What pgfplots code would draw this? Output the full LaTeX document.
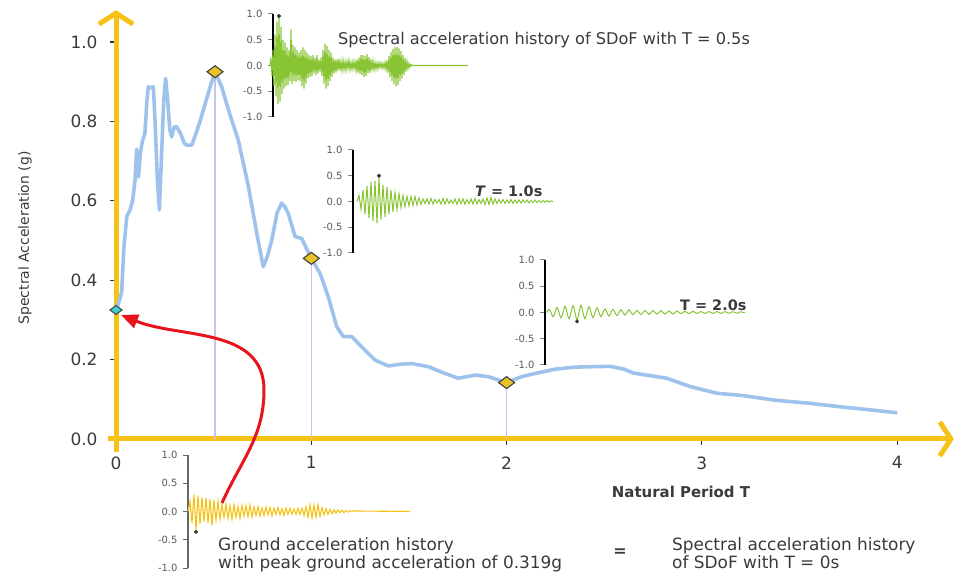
\documentclass[border=0pt]{standalone}
\usepackage{fontspec}
\setmainfont{DejaVu Sans}
\usepackage{pgfplots}
\pgfplotsset{compat=1.18}
\usetikzlibrary{arrows.meta}
\definecolor{gold}{RGB}{246,194,22}
\definecolor{skyb}{RGB}{157,195,236}
\definecolor{lav}{RGB}{196,196,236}
\definecolor{lime}{RGB}{136,196,52}
\definecolor{dgold}{RGB}{232,194,40}
\definecolor{cyanm}{RGB}{60,210,210}
\definecolor{redar}{RGB}{232,20,27}
\definecolor{txt}{RGB}{58,58,58}
\pgfplotsset{inset/.style={scale only axis, anchor=south west, axis x line=none, axis y line=left,
  ymin=-1, ymax=1, xmin=0, clip=false, y axis line style={-, line width=1.3bp},
  ytick={-1,-0.5,0,0.5,1}, yticklabels={-1.0,-0.5,0.0,0.5,1.0}, tick align=outside,
  major tick length=5bp, tick style={line width=1bp},
  yticklabel style={font=\fontsize{10}{10}\selectfont, text=black!65, xshift=-2bp}}}
\begin{document}
\begin{tikzpicture}
\path[use as bounding box] (0,0) rectangle (956bp,573bp);
\begin{axis}[at={(108.2bp,120.9bp)}, anchor=south west, scale only axis,
  width=845.6bp, height=441.9bp, xmin=-0.04, xmax=4.29, ymin=-0.033, ymax=1.08,
  axis lines=middle,
  axis line style={draw=gold, line width=5bp, -{Straight Barb[length=11bp,width=34bp]}},
  hide obscured x ticks=false, hide obscured y ticks=false,
  xtick={0,1,2,3,4}, xticklabels={0,1,2,3,4},
  ytick={0,0.2,0.4,0.6,0.8,1.0}, yticklabels={0.0,0.2,0.4,0.6,0.8,1.0},
  tick align=outside, major tick length=6bp, tick style={black!80, line width=1.2bp},
  ticklabel style={font=\fontsize{17}{17}\selectfont, text=txt},
  xticklabel style={yshift=-8bp}, yticklabel style={xshift=-9bp},
  clip=false]
\addplot[lav, line width=1.1bp] coordinates {(0.507,0) (0.507,0.925)};
\addplot[lav, line width=1.1bp] coordinates {(1,0) (1,0.455)};
\addplot[lav, line width=1.1bp] coordinates {(2,0) (2,0.142)};
\addplot[skyb, line width=3.6bp, line join=round] coordinates {
(0,0.325)(0.015,0.345)(0.029,0.37)(0.04,0.48)(0.055,0.56)(0.072,0.577)(0.085,0.6)(0.097,0.65)
(0.106,0.73)(0.115,0.66)(0.125,0.72)(0.135,0.75)(0.148,0.77)(0.158,0.85)(0.165,0.887)(0.175,0.885)
(0.191,0.887)(0.2,0.8)(0.212,0.65)(0.222,0.577)(0.232,0.7)(0.244,0.85)(0.254,0.908)(0.265,0.85)
(0.275,0.78)(0.285,0.761)(0.297,0.785)(0.31,0.787)(0.33,0.77)(0.35,0.745)(0.362,0.74)(0.388,0.74)
(0.41,0.77)(0.43,0.80)(0.46,0.85)(0.49,0.9)(0.507,0.925)(0.525,0.905)(0.541,0.887)(0.56,0.855)
(0.584,0.816)(0.626,0.753)(0.678,0.636)(0.72,0.52)(0.754,0.434)(0.775,0.46)(0.797,0.50)(0.825,0.57)
(0.848,0.594)(0.865,0.585)(0.882,0.568)(0.917,0.51)(0.951,0.505)(0.975,0.48)(1.0,0.455)
(1.045,0.417)(1.087,0.358)(1.13,0.283)(1.164,0.258)(1.207,0.258)(1.258,0.232)(1.326,0.199)
(1.394,0.184)(1.45,0.188)(1.514,0.19)(1.6,0.182)(1.685,0.165)(1.753,0.153)(1.838,0.161)
(1.906,0.157)(2.0,0.142)(2.077,0.157)(2.145,0.165)(2.25,0.176)(2.35,0.181)(2.43,0.182)
(2.53,0.183)(2.6,0.176)(2.65,0.166)(2.82,0.153)(2.94,0.132)(3.08,0.115)(3.2,0.11)(3.37,0.098)
(3.55,0.09)(3.71,0.081)(3.85,0.074)(4.0,0.066)};
\addplot[only marks, mark=diamond*, mark size=8bp, mark options={rotate=90, fill=dgold, draw=black!75, line width=1.1bp}]
  coordinates {(0.507,0.925) (1,0.455) (2,0.142)};
\addplot[only marks, mark=diamond*, mark size=6bp, mark options={rotate=90, fill=cyanm, draw=black!70, line width=1.1bp}]
  coordinates {(0,0.325)};
\end{axis}
% inset T = 0.5 s
\begin{axis}[inset, at={(273bp,456bp)}, width=200bp, height=103bp, xmax=200]
\addplot[lime, line width=1.1bp] coordinates {
(-3,0)(-2,0.15)(-1,-0.2)(0,0.3)(1,-0.4)(2,0.6)(3,-0.6)(4,0.85)(5,-0.75)(6,0.93)(7,-0.7)(8,0.75)(9,-0.55)
(10,0.5)(11,-0.45)(12,0.45)(13,-0.4)(14,0.35)(15,-0.38)(16,0.3)(17,-0.3)(18,0.7)(19,-0.35)(20,0.4)
(21,-0.3)(22,0.35)(23,-0.32)(24,0.3)(25,-0.28)(26,0.25)(27,-0.3)(28,0.3)(29,-0.4)(30,0.35)(31,-0.45)
(32,0.3)(33,-0.35)(34,0.25)(35,-0.25)(36,0.2)(37,-0.22)(38,0.18)(39,-0.2)(40,0.2)(41,-0.15)(42,0.15)
(43,-0.18)(44,0.2)(45,-0.15)(46,0.12)(47,-0.12)(48,0.15)(49,-0.2)(50,0.3)(51,-0.35)(52,0.42)(53,-0.45)
(54,0.38)(55,-0.4)(56,0.3)(57,-0.3)(58,0.25)(59,-0.22)(60,0.15)(61,-0.15)(62,0.12)(63,-0.14)(64,0.12)
(65,-0.1)(66,0.13)(67,-0.1)(68,0.08)(69,-0.1)(70,0.1)(71,-0.08)(72,0.07)(73,-0.09)(74,0.08)(75,-0.06)
(76,0.1)(77,-0.08)(78,0.06)(79,-0.07)(80,0.08)(81,-0.06)(82,0.07)(83,-0.1)(84,0.12)(85,-0.14)(86,0.15)
(87,-0.16)(88,0.2)(89,-0.18)(90,0.2)(91,-0.22)(92,0.18)(93,-0.2)(94,0.22)(95,-0.15)(96,0.16)(97,-0.14)
(98,0.12)(99,-0.1)(100,0.09)(101,-0.08)(102,0.06)(103,-0.07)(104,0.05)(105,-0.06)(106,0.05)(107,-0.04)
(108,0.05)(109,-0.05)(110,0.04)(111,-0.05)(112,0.06)(113,-0.08)(114,0.1)(115,-0.14)(116,0.18)(117,-0.22)
(118,0.26)(119,-0.3)(120,0.32)(121,-0.36)(122,0.35)(123,-0.4)(124,0.36)(125,-0.38)(126,0.33)(127,-0.3)
(128,0.28)(129,-0.25)(130,0.2)(131,-0.18)(132,0.14)(133,-0.12)(134,0.08)(135,-0.06)(136,0.04)(137,-0.03)
(138,0.02)(139,0)(195,0)};
\addplot[only marks, mark=*, mark size=1.8bp, black!80] coordinates {(6,0.96)};
\end{axis}
% inset T = 1.0 s
\begin{axis}[inset, at={(353bp,320bp)}, width=202bp, height=103bp, xmax=202]
\addplot[lime, line width=1bp] coordinates {
(4,0)(6,0.12)(8,-0.15)(10,0.22)(12,-0.25)(14,0.3)(16,-0.32)(18,0.38)(20,-0.38)(22,0.4)(24,-0.42)
(26,0.46)(28,-0.35)(30,0.32)(32,-0.3)(34,0.28)(36,-0.25)(38,0.22)(40,-0.2)(42,0.18)(44,-0.16)(46,0.15)
(48,-0.12)(50,0.12)(52,-0.1)(54,0.1)(56,-0.09)(58,0.1)(60,-0.08)(62,0.1)(64,-0.07)(66,0.07)(68,-0.06)
(70,0.05)(72,-0.04)(74,0.05)(76,-0.05)(78,0.06)(80,-0.05)(82,0.04)(84,-0.03)(86,0.04)(88,-0.05)(90,0.06)
(92,-0.05)(94,0.05)(96,-0.04)(98,0.03)(100,-0.04)(102,0.05)(104,-0.06)(106,0.05)(108,-0.04)(110,0.05)
(112,-0.05)(114,0.04)(116,-0.04)(118,0.05)(120,-0.05)(122,0.06)(124,-0.05)(126,0.04)(128,-0.04)(130,0.05)
(132,-0.06)(134,0.07)(136,-0.06)(138,0.08)(140,-0.05)(142,0.05)(144,-0.04)(146,0.04)(148,-0.03)(150,0.04)
(152,-0.04)(154,0.03)(156,-0.03)(158,0.04)(160,-0.04)(162,0.03)(164,-0.03)(166,0.03)(168,-0.03)(170,0.03)
(172,-0.02)(174,0.03)(176,-0.03)(178,0.02)(180,-0.02)(182,0.03)(184,-0.02)(186,0.02)(188,-0.02)(190,0.02)
(192,-0.02)(194,0.02)(196,-0.01)(198,0.01)(200,0)};
\addplot[only marks, mark=*, mark size=1.8bp, black!80] coordinates {(26,0.5)};
\end{axis}
% inset T = 2.0 s
\begin{axis}[inset, at={(545bp,208bp)}, width=200bp, height=105bp, xmax=200]
\addplot[lime, line width=1bp, smooth, tension=0.6] coordinates {
(2,0)(4,0.06)(6,0)(8,-0.08)(10,0)(12,0.1)(14,0)(16,-0.1)(18,0)(20,0.12)(22,0)(24,-0.12)(26,0)(28,0.13)
(30,0)(32,-0.14)(34,0)(36,0.14)(38,0)(40,-0.12)(42,0)(44,0.11)(46,0)(48,-0.1)(50,0)(52,0.09)(54,0)
(56,-0.08)(58,0)(60,0.07)(62,0)(64,-0.07)(66,0)(68,0.06)(70,0)(72,-0.06)(74,0)(76,0.05)(78,0)(80,-0.05)
(82,0)(84,0.05)(86,0)(88,-0.04)(90,0)(92,0.04)(94,0)(96,-0.04)(98,0)(100,0.04)(102,0)(104,-0.035)(106,0)
(108,0.035)(110,0)(112,-0.03)(114,0)(116,0.035)(118,0)(120,-0.03)(122,0)(124,0.03)(126,0)(128,-0.03)
(130,0)(132,0.03)(134,0)(136,-0.025)(138,0)(140,0.025)(142,0)(144,-0.025)(146,0)(148,0.025)(150,0)
(152,-0.02)(154,0)(156,0.02)(158,0)(160,-0.02)(162,0)(164,0.02)(166,0)(168,-0.02)(170,0)(172,0.02)
(174,0)(176,-0.02)(178,0)(180,0.02)(182,0)(184,-0.015)(186,0)(188,0.015)(190,0)(192,-0.015)(194,0)
(196,0.015)(198,0)(200,0)};
\addplot[only marks, mark=*, mark size=1.8bp, black!80] coordinates {(32,-0.17)};
\end{axis}
% inset ground motion
\begin{axis}[inset, at={(188bp,5bp)}, width=222bp, height=113bp, xmax=222,
  y axis line style={black!60}, tick style={black!60}]
\addplot[gold, line width=1.1bp] coordinates {
(0,0)(2,0.18)(4,-0.2)(6,0.3)(8,-0.32)(10,0.28)(12,-0.22)(14,0.25)(16,-0.18)(18,0.24)(20,-0.2)(22,0.22)
(24,-0.25)(26,0.2)(28,-0.15)(30,0.18)(32,-0.14)(34,0.12)(36,-0.1)(38,0.13)(40,-0.12)(42,0.1)(44,-0.14)
(46,0.12)(48,-0.1)(50,0.09)(52,-0.12)(54,0.11)(56,-0.08)(58,0.1)(60,-0.09)(62,0.12)(64,-0.1)(66,0.08)
(68,-0.07)(70,0.09)(72,-0.08)(74,0.06)(76,-0.07)(78,0.08)(80,-0.06)(82,0.07)(84,-0.08)(86,0.06)(88,-0.05)
(90,0.07)(92,-0.06)(94,0.05)(96,-0.07)(98,0.06)(100,-0.05)(102,0.06)(104,-0.05)(106,0.04)(108,-0.05)
(110,0.06)(112,-0.05)(114,0.06)(116,-0.07)(118,0.08)(120,-0.1)(122,0.12)(124,-0.12)(126,0.11)(128,-0.1)
(130,0.12)(132,-0.09)(134,0.07)(136,-0.06)(138,0.05)(140,-0.05)(142,0.04)(144,-0.04)(146,0.03)(148,-0.03)
(150,0.03)(152,-0.02)(154,0.02)(156,-0.02)(158,0.015)(160,-0.01)(162,0.01)(222,0)};
\addplot[only marks, mark=*, mark size=1.8bp, black!80] coordinates {(8,-0.36)};
\end{axis}
\draw[redar, line width=3bp, -{Triangle[length=17bp,width=14bp]}]
  (222bp,70bp) to[out=66,in=-90] (264bp,183bp) to[out=90,in=-22] (121bp,258bp);
\begin{scope}[every node/.style={text=txt, inner sep=0pt}]
\node[anchor=west, font=\fontsize{16.2}{18}\selectfont] at (338bp,533bp) {Spectral acceleration history of SDoF with T = 0.5s};
\node[anchor=west, font=\bfseries\fontsize{14.5}{16}\selectfont] at (475bp,382bp) {\textit{T} = 1.0s};
\node[anchor=west, font=\bfseries\fontsize{14.5}{16}\selectfont] at (680bp,268bp) {T = 2.0s};
\node[font=\bfseries\fontsize{15}{17}\selectfont] at (681bp,81bp) {Natural Period T};
\node[rotate=90, font=\fontsize{14}{16}\selectfont] at (25bp,335bp) {Spectral Acceleration (g)};
\node[anchor=base west, font=\fontsize{17}{18}\selectfont] at (218bp,23bp) {Ground acceleration history};
\node[anchor=base west, font=\fontsize{17}{18}\selectfont] at (218bp,5bp) {with peak ground acceleration of 0.319g};
\node[font=\bfseries\fontsize{16}{18}\selectfont] at (620bp,20bp) {=};
\node[anchor=base west, font=\fontsize{17}{18}\selectfont] at (672bp,23bp) {Spectral acceleration history};
\node[anchor=base west, font=\fontsize{17}{18}\selectfont] at (672bp,5bp) {of SDoF with T = 0s};
\end{scope}
\end{tikzpicture}
\end{document}
